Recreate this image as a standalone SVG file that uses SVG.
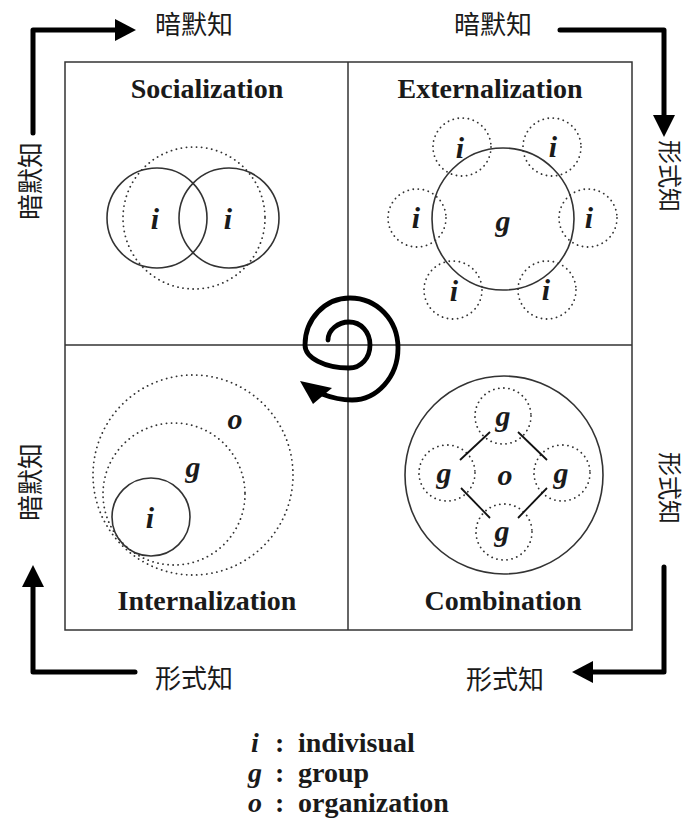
<svg xmlns="http://www.w3.org/2000/svg" width="687" height="825" viewBox="0 0 687 825">
<style>
.frame{fill:none;stroke:#333;stroke-width:1.5}
.solid{fill:none;stroke:#333;stroke-width:1.6}
.dot{fill:none;stroke:#333;stroke-width:1.8;stroke-dasharray:0.1 5;stroke-linecap:round}
.title{font-family:"Liberation Serif","Times New Roman",serif;font-weight:bold;font-size:28px;fill:#1a1a1a;text-anchor:middle}
.var{font-family:"Liberation Serif","Times New Roman",serif;font-weight:bold;font-style:italic;font-size:30px;fill:#1a1a1a;text-anchor:middle;dominant-baseline:central}
.leg{font-family:"Liberation Serif","Times New Roman",serif;font-weight:bold;font-size:28px;fill:#1a1a1a}
.legv{font-family:"Liberation Serif","Times New Roman",serif;font-weight:bold;font-style:italic;font-size:28px;fill:#1a1a1a;text-anchor:middle}
.cjk{font-family:"Noto Sans CJK SC","Noto Sans CJK JP",sans-serif;font-size:26px;fill:#1a1a1a;text-anchor:middle;dominant-baseline:central}
.cjkr{font-family:"Noto Sans CJK SC","Noto Sans CJK JP",sans-serif;font-size:24px;fill:#1a1a1a;text-anchor:middle;dominant-baseline:central}
.thick{fill:none;stroke:#000;stroke-width:5;stroke-linejoin:round;stroke-linecap:round}
.spiral{fill:none;stroke:#000;stroke-width:4.8;stroke-linecap:round}
.conn{stroke:#111;stroke-width:1.8}
</style>

<g id="frame">
<rect class="frame" x="65" y="62" width="567" height="568"/>
<line class="frame" x1="348" y1="62" x2="348" y2="630"/>
<line class="frame" x1="65" y1="345" x2="632" y2="345"/>
</g>

<g id="socialization">
<text class="title" x="207" y="98">Socialization</text>
<circle class="dot" cx="194" cy="218" r="71"/>
<circle class="solid" cx="157" cy="218" r="50"/>
<circle class="solid" cx="229" cy="218" r="50"/>
<text class="var" x="155" y="218">i</text>
<text class="var" x="228" y="218">i</text>
</g>

<g id="externalization">
<text class="title" x="490" y="98">Externalization</text>
<circle class="dot" cx="462" cy="147" r="29"/>
<circle class="dot" cx="552" cy="147" r="29"/>
<circle class="dot" cx="417" cy="218" r="29"/>
<circle class="dot" cx="588" cy="218" r="29"/>
<circle class="dot" cx="453" cy="290" r="29"/>
<circle class="dot" cx="547" cy="290" r="29"/>
<circle class="solid" cx="503" cy="219" r="71"/>
<text class="var" x="503" y="220">g</text>
<text class="var" x="460" y="147">i</text>
<text class="var" x="553" y="146">i</text>
<text class="var" x="416" y="217">i</text>
<text class="var" x="589" y="217">i</text>
<text class="var" x="454" y="290">i</text>
<text class="var" x="546" y="289">i</text>
</g>

<g id="internalization">
<circle class="dot" cx="193" cy="475" r="100"/>
<circle class="dot" cx="174" cy="494" r="71"/>
<circle class="solid" cx="151" cy="517" r="39"/>
<text class="var" x="235" y="418">o</text>
<text class="var" x="193" y="466">g</text>
<text class="var" x="150" y="517">i</text>
<text class="title" x="207" y="610">Internalization</text>
</g>

<g id="combination">
<circle class="solid" cx="504" cy="475" r="99"/>
<circle class="dot" cx="503" cy="416" r="28"/>
<circle class="dot" cx="447" cy="473" r="28"/>
<circle class="dot" cx="562" cy="473" r="28"/>
<circle class="dot" cx="504" cy="532" r="28"/>
<text class="var" x="503" y="415">g</text>
<text class="var" x="444" y="472">g</text>
<text class="var" x="561" y="472">g</text>
<text class="var" x="502" y="530">g</text>
<text class="var" x="505" y="474">o</text>
<text class="title" x="503" y="610">Combination</text>
</g>

<g id="connectors">
<line class="conn" x1="460" y1="460" x2="490" y2="432"/>
<line class="conn" x1="518" y1="432" x2="547" y2="460"/>
<line class="conn" x1="461" y1="488" x2="490" y2="518"/>
<line class="conn" x1="518" y1="518" x2="547" y2="488"/>

<path class="thick" d="M33 133 V30 H117"/>
<polygon points="115,19 136,30 115,41" fill="#000"/>
<path class="thick" d="M560 30 H664 V117"/>
<polygon points="653,115 664,137 675,115" fill="#000"/>
<path class="thick" d="M664 567 V672 H592"/>
<polygon points="593,661 572,672 593,683" fill="#000"/>
<path class="thick" d="M135 672 H33 V587"/>
<polygon points="22,587 33,565 44,587" fill="#000"/>

<path class="spiral" d="M328 340 C328 330 338 322 349 322 C361 322 370 332 370 345 C370 358 361 368 349 368 C325 368 305 358 305 345 C305 319 325 298 350 298 C377 298 398 320 398 348 C398 377 377 400 352 400 C343 400 335 399 322 394"/>
<polygon points="300,381 313,404 332,388" fill="#000"/>
</g>

<g id="labels">
<text class="cjk" x="194" y="22">暗默知</text>
<text class="cjk" x="493" y="22">暗默知</text>
<text class="cjk" x="194" y="676">形式知</text>
<text class="cjk" x="505" y="677">形式知</text>
<text class="cjk" transform="translate(28 181) rotate(-90)">暗默知</text>
<text class="cjk" transform="translate(28 482) rotate(-90)">暗默知</text>
<text class="cjkr" transform="translate(671 176) rotate(90)">形式知</text>
<text class="cjkr" transform="translate(671 488) rotate(90)">形式知</text>
</g>

<g id="legend">
<text class="legv" x="255" y="752">i</text>
<text class="leg" x="275" y="752">:</text>
<text class="leg" x="298" y="752">indivisual</text>
<text class="legv" x="255" y="782">g</text>
<text class="leg" x="275" y="782">:</text>
<text class="leg" x="298" y="782">group</text>
<text class="legv" x="255" y="812">o</text>
<text class="leg" x="275" y="812">:</text>
<text class="leg" x="298" y="812">organization</text>
</g>
</svg>
